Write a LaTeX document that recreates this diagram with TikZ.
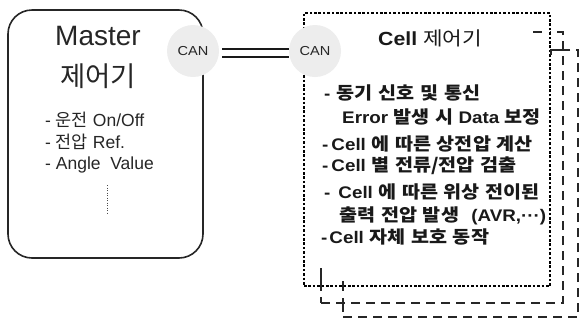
\documentclass[tikz,border=0pt]{standalone}
\usepackage{fontspec}
\setmainfont{Liberation Sans}
\newfontfamily\krfont{Noto Sans CJK KR}
\newfontfamily\cellfont[FakeStretch=1.12]{Liberation Sans}
\newfontfamily\cellkr[FakeStretch=1.12,WordSpace=1.3]{Noto Sans CJK KR}
\newcommand\K[1]{{\krfont #1}}
\newcommand\KC[1]{{\cellkr\fontsize{17.5}{17.5}\selectfont #1}}
\begin{document}
\begin{tikzpicture}[x=1pt,y=-1pt,
  master/.style={draw=black!85, line width=1.6pt, rounded corners=24pt, inner sep=0pt},
  cellbox/.style={draw=black, fill=white, line width=2.5pt, dash pattern=on 2.6pt off 1.8pt, inner sep=0pt},
  stackbox/.style={draw=black!85, fill=white, line width=1.3pt, dash pattern=on 9pt off 6pt, inner sep=0pt},
  stub/.style={draw=black!85, line width=1.3pt},
  canbus/.style={circle, fill=black!7, minimum size=52pt, inner sep=0pt,
    text=black!85, font=\cellfont\fontsize{13}{13}\selectfont},
  mtext/.style={anchor=base west, text=black!85, inner sep=0pt, font=\fontsize{17.5}{17.5}\selectfont},
  ctext/.style={anchor=base west, text=black!90, inner sep=0pt, font=\cellfont\bfseries\fontsize{16.8}{16.8}\selectfont},
  bus/.style={draw=black!90, line width=1.8pt, double distance=5.5pt}
]
\useasboundingbox (0,0) rectangle (581,325);

% Master controller
\node[master, minimum width=195pt, minimum height=248pt] (master) at (105.5,134) {};
\node[text=black!85, font=\fontsize{28}{28}\selectfont] (mtitle) at (98,36) {Master};
\node[text=black!85, font=\krfont\fontsize{27.5}{27.5}\selectfont] (mkr) at (98,76) {제어기};
\node[mtext] (m1) at (45,126.5) {- \K{운전} On/Off};
\node[mtext] (m2) at (45,148.5) {- \K{전압} Ref.};
\node[mtext] (m3) at (45,169.5) {- Angle\ \ Value};
\coordinate (mdotA) at (107,185);
\coordinate (mdotB) at (107,213);
\draw[black!70, line width=1pt, dash pattern=on 1pt off 1.5pt] (mdotA) -- (mdotB);

% stacked cell controllers (back to front)
\node[stackbox, minimum width=235pt, minimum height=267pt] (cell3) at (460.5,183.5) {};
\node[stackbox, minimum width=242pt, minimum height=271pt] (cell2) at (442,167.5) {};
\node[cellbox, minimum width=246pt, minimum height=273pt] (cell1) at (427,149.5) {};

% edges of the rear boxes showing through
\draw[stub] (321,268) -- (321,286);
\draw[stub] (533,32) -- (542,32);
\draw[stub] (343,281) -- (343,291);
\draw[stub] (343,298) -- (343,308);
\draw[stub] (551,55) -- (551,50) -- (563,50);

% Cell controller text
\node[text=black!90, font=\cellfont\bfseries\fontsize{19}{19}\selectfont] (ctitle) at (430,38)
  {Cell {\cellkr\mdseries\fontsize{19}{19}\selectfont 제어기}};
\node[ctext] (c1) at (324,99) {-\hspace{6pt}\KC{동기 신호 및 통신}};
\node[ctext] (c2) at (342,123) {Error \KC{발생 시} Data \KC{보정}};
\node[ctext] (c3) at (322,150) {-\hspace{3pt}Cell \KC{에 따른 상전압 계산}};
\node[ctext] (c4) at (322,171) {-\hspace{3pt}Cell \KC{별 전류/전압 검출}};
\node[ctext] (c5) at (324,198) {-\hspace{8pt}Cell \KC{에 따른 위상 전이된}};
\node[ctext] (c6) at (339,221) {\KC{출력 전압 발생}\hspace{7pt} (AVR,···)};
\node[ctext] (c7) at (321,243) {-\hspace{2pt}Cell \KC{자체 보호 동작}};

% CAN link
\node[canbus] (canA) at (193,51) {CAN};
\node[canbus] (canB) at (315,51) {CAN};
\draw[bus] ([xshift=3pt,yshift=-2pt]canA.east) -- ([yshift=-2pt]canB.west);
\end{tikzpicture}
\end{document}
